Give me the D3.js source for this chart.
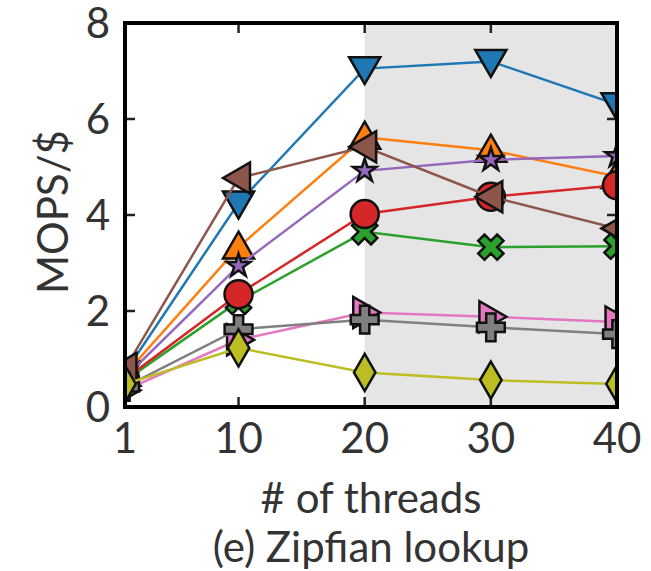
<!DOCTYPE html>
<html>
	<head>
		<title>Zipfian lookup</title>

		<!--libs-->
		<script src="https://d3js.org/d3.v7.min.js"></script>

		<!--css-->
		<style>
			body {
				margin: 0;
				background: #fff;
			}
			text {
				font-family: Lato, "Open Sans", sans-serif;
				fill: #333;
			}
		</style>
	</head>
	<body>
		<div class="chart"></div>

		<script>
			// x positions (# of threads)
			var threads = [1, 10, 20, 30, 40];
			var xTicks = ["1", "10", "20", "30", "40"];
			var yTicks = [0, 2, 4, 6, 8];

			// MOPS/$ per series
			var blueVals   = [0.72, 4.25, 7.05, 7.2, 6.3];
			var orangeVals = [0.68, 3.33, 5.62, 5.35, 4.8];
			var greenVals  = [0.55, 2.2, 3.65, 3.33, 3.35];
			var redVals    = [0.58, 2.35, 4.02, 4.38, 4.62];
			var purpleVals = [0.62, 2.94, 4.92, 5.15, 5.23];
			var brownVals  = [0.8, 4.77, 5.42, 4.38, 3.72];
			var pinkVals   = [0.35, 1.4, 1.97, 1.88, 1.77];
			var grayVals   = [0.42, 1.62, 1.82, 1.66, 1.52];
			var oliveVals  = [0.48, 1.23, 0.72, 0.56, 0.48];

			var shadeFrom = 20;

			var series = [
				{ vals: blueVals,   color: "#1f77b4", shape: "tri", rot: 180, size: 420 },
				{ vals: orangeVals, color: "#ff7f0e", shape: "tri", rot: 0,   size: 420 },
				{ vals: greenVals,  color: "#2ca02c", shape: "cross", rot: 45, size: 400 },
				{ vals: redVals,    color: "#d62728", shape: "circle", rot: 0, size: 620 },
				{ vals: purpleVals, color: "#9467bd", shape: "star", rot: 0,  size: 170 },
				{ vals: brownVals,  color: "#8c564b", shape: "tri", rot: -90, size: 420 },
				{ vals: pinkVals,   color: "#e377c2", shape: "tri", rot: 90,  size: 420 },
				{ vals: grayVals,   color: "#7f7f7f", shape: "cross", rot: 0, size: 430 },
				{ vals: oliveVals,  color: "#bcbd22", shape: "diamond", rot: 0, size: 400 }
			];

			var symbolTypes = {
				tri: d3.symbolTriangle,
				cross: d3.symbolCross,
				circle: d3.symbolCircle,
				star: d3.symbolStar,
				diamond: d3.symbolDiamond
			};

			var width = 651, height = 571;
			var plotL = 125, plotR = 617, plotT = 23, plotB = 407;

			var x = d3.scaleLinear().domain([1, 40]).range([plotL, plotR]);
			var y = d3.scaleLinear().domain([0, 8]).range([plotB, plotT]);

			var svg = d3.select(".chart")
				.append("svg")
				.attr("width", width)
				.attr("height", height);

			svg.append("clipPath")
				.attr("id", "plotclip")
				.append("rect")
				.attr("x", plotL)
				.attr("y", plotT)
				.attr("width", plotR - plotL)
				.attr("height", plotB - plotT);

			//shaded region
			svg.append("rect")
				.attr("x", x(shadeFrom))
				.attr("y", plotT)
				.attr("width", x(40) - x(shadeFrom))
				.attr("height", plotB - plotT)
				.style("fill", "#e5e5e5");

			//inner ticks on all four sides
			var ticks = svg.append("g").attr("class", "ticks")
				.style("stroke", "#222")
				.style("stroke-width", 2.5);
			var tickLen = 10;

			threads.slice(1, 4).forEach(function(t) {
				ticks.append("line").attr("x1", x(t)).attr("x2", x(t))
					.attr("y1", plotB).attr("y2", plotB - tickLen);
				ticks.append("line").attr("x1", x(t)).attr("x2", x(t))
					.attr("y1", plotT).attr("y2", plotT + tickLen);
			});
			yTicks.slice(1, 4).forEach(function(v) {
				ticks.append("line").attr("x1", plotL).attr("x2", plotL + tickLen)
					.attr("y1", y(v)).attr("y2", y(v));
				ticks.append("line").attr("x1", plotR).attr("x2", plotR - tickLen)
					.attr("y1", y(v)).attr("y2", y(v));
			});

			//series
			var line = d3.line()
				.x(function(d, i) { return x(threads[i]); })
				.y(function(d) { return y(d); });

			var plot = svg.append("g").attr("clip-path", "url(#plotclip)");

			series.forEach(function(s) {
				var g = plot.append("g");

				g.append("path")
					.datum(s.vals)
					.attr("d", line)
					.style("fill", "none")
					.style("stroke", s.color)
					.style("stroke-width", 2.5);

				var sym = d3.symbol().type(symbolTypes[s.shape]).size(s.size);

				g.selectAll("path.mark")
					.data(s.vals)
					.enter().append("path")
					.attr("class", "mark")
					.attr("d", sym)
					.attr("transform", function(d, i) {
						var extra = s.shape == "tri" ? " translate(0," + (Math.sqrt(s.size) * 0.12) + ")" : "";
						return "translate(" + x(threads[i]) + "," + y(d) + ") rotate(" + s.rot + ")" + extra;
					})
					.style("fill", s.color)
					.style("stroke", "#111")
					.style("stroke-width", 2.5)
					.style("stroke-linejoin", "miter");
			});

			//frame
			svg.append("rect")
				.attr("x", plotL)
				.attr("y", plotT)
				.attr("width", plotR - plotL)
				.attr("height", plotB - plotT)
				.style("fill", "none")
				.style("stroke", "#000")
				.style("stroke-width", 4);

			//tick labels
			svg.selectAll("text.xt")
				.data(threads)
				.enter().append("text")
				.attr("class", "xt")
				.attr("x", function(d) { return x(d); })
				.attr("y", 453)
				.attr("text-anchor", "middle")
				.style("font-size", "42px")
				.text(function(d, i) { return xTicks[i]; });

			svg.selectAll("text.yt")
				.data(yTicks)
				.enter().append("text")
				.attr("class", "yt")
				.attr("x", 110)
				.attr("y", function(d) { return y(d); })
				.attr("dy", "0.35em")
				.attr("text-anchor", "end")
				.style("font-size", "42px")
				.text(function(d) { return d; });

			//axis labels
			svg.append("text")
				.attr("transform", "translate(68,212) rotate(-90)")
				.attr("text-anchor", "middle")
				.style("font-size", "42px")
				.text("MOPS/$");

			svg.append("text")
				.attr("x", 371)
				.attr("y", 513)
				.attr("text-anchor", "middle")
				.style("font-size", "42px")
				.text("# of threads");

			svg.append("text")
				.attr("x", 371)
				.attr("y", 562)
				.attr("text-anchor", "middle")
				.style("font-size", "42px")
				.text("(e) Zipfian lookup");
		</script>
	</body>
</html>
